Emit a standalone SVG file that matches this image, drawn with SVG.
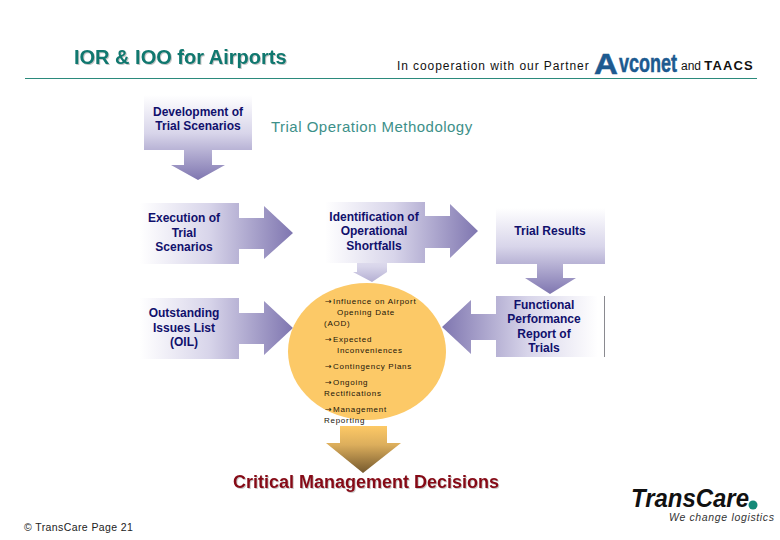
<svg xmlns="http://www.w3.org/2000/svg" xmlns:xlink="http://www.w3.org/1999/xlink" width="780" height="540" viewBox="0 0 780 540">
<style>
text{font-family:"Liberation Sans",Arial,sans-serif}
.n{font-size:12px;font-weight:bold;fill:#10106c;text-anchor:middle}
.e{font-size:8px;fill:#1a1408;letter-spacing:.72px}
.a{font-family:"DejaVu Sans",sans-serif;letter-spacing:0}
</style>
<defs>
<linearGradient id="p"><stop offset="0" stop-color="#fff"/><stop offset=".45" stop-color="#d8d5ea"/><stop offset="1" stop-color="#7f76b0"/></linearGradient>
<linearGradient id="gDev" xlink:href="#p" gradientUnits="userSpaceOnUse" x1="0" y1="95" x2="0" y2="180"/>
<linearGradient id="gExe" xlink:href="#p" gradientUnits="userSpaceOnUse" x1="140" y1="0" x2="293" y2="0"/>
<linearGradient id="gIde" xlink:href="#p" gradientUnits="userSpaceOnUse" x1="325" y1="0" x2="478" y2="0"/>
<linearGradient id="gSmall" xlink:href="#p" gradientUnits="userSpaceOnUse" x1="0" y1="235" x2="0" y2="305"/>
<linearGradient id="gOut" xlink:href="#p" gradientUnits="userSpaceOnUse" x1="140" y1="0" x2="293" y2="0"/>
<linearGradient id="gRes" xlink:href="#p" gradientUnits="userSpaceOnUse" x1="0" y1="208" x2="0" y2="294"/>
<linearGradient id="gFun" xlink:href="#p" gradientUnits="userSpaceOnUse" x1="598" y1="0" x2="442" y2="0"/>
<linearGradient id="gBot" gradientUnits="userSpaceOnUse" x1="0" y1="426" x2="0" y2="473"><stop offset="0" stop-color="#fdc966"/><stop offset=".4" stop-color="#dcae5c"/><stop offset="1" stop-color="#75592e"/></linearGradient>
</defs>
<rect width="780" height="540" fill="#fff"/>
<g id="header">
<text x="74" y="64" font-size="20" font-weight="bold" fill="#10786f" style="filter:drop-shadow(1px 1px 0 #c4c4c4)">IOR &amp; IOO for Airports</text>
<text x="397" y="70" font-size="12" letter-spacing=".92" fill="#111">In cooperation with our Partner</text>
<g id="avconet-logo" fill="#1d5a90" stroke="#1d5a90" stroke-width=".5" font-weight="bold">
<text transform="translate(594 74) scale(1.14 1)" font-size="29">A</text>
<text transform="translate(619 72) scale(.72 1)" font-size="25">vconet</text>
</g>
<text x="681" y="70" font-size="12" fill="#111">and <tspan font-weight="bold" font-size="13" letter-spacing="1.1">TAACS</tspan></text>
<path d="M25 78.5H757" stroke="#2b8a7c" stroke-width="1.2" fill="none"/>
<text x="271" y="132" font-size="15" letter-spacing=".48" fill="#3d9089">Trial Operation Methodology</text>
</g>
<g id="connectors">
<polygon points="184,150 212,150 212,165 225,165 198,180 171,165 184,165" fill="url(#gDev)"/>
<polygon points="239,218 264,218 264,206 293,233 264,259 264,249 239,249" fill="url(#gExe)"/>
<polygon points="425,216 450,216 450,204 478,231 450,258 450,248 425,248" fill="url(#gIde)"/>
<polygon points="357,263 387,263 387,272 372,282 353,272 357,272" fill="url(#gSmall)"/>
<polygon points="239,313 264,313 264,301 293,328 264,355 264,344 239,344" fill="url(#gOut)"/>
<polygon points="537,264 563,264 563,278 576,278 550,294 525,278 537,278" fill="url(#gRes)"/>
<polygon points="496,314 471,314 471,300 442,327 471,354 471,340 496,340" fill="url(#gFun)"/>
<polygon points="340,426 387,426 387,443 401,443 363,473 326,443 340,443" fill="url(#gBot)"/>
</g>
<g id="node-development"><rect x="144" y="95" width="108" height="55" fill="url(#gDev)"/>
<text class="n" x="198" y="116">Development of</text><text class="n" x="198" y="130">Trial Scenarios</text></g>
<g id="node-execution"><rect x="140" y="203" width="99" height="61" fill="url(#gExe)"/>
<text class="n" x="184" y="222">Execution of</text><text class="n" x="184" y="237">Trial</text><text class="n" x="184" y="251">Scenarios</text></g>
<g id="node-identification"><rect x="325" y="202" width="100" height="61" fill="url(#gIde)"/>
<text class="n" x="374" y="221">Identification of</text><text class="n" x="374" y="235">Operational</text><text class="n" x="374" y="250">Shortfalls</text></g>
<g id="node-results"><rect x="496" y="208" width="109" height="56" fill="url(#gRes)"/>
<text class="n" x="550" y="235">Trial Results</text></g>
<g id="node-outstanding"><rect x="140" y="298" width="99" height="61" fill="url(#gOut)"/>
<text class="n" x="184" y="317">Outstanding</text><text class="n" x="184" y="332">Issues List</text><text class="n" x="184" y="346">(OIL)</text></g>
<g id="node-functional"><rect x="496" y="296" width="109" height="61" fill="url(#gFun)"/>
<path d="M604.5 296V357" stroke="#8a8a90" stroke-width="1"/>
<text class="n" x="544" y="309">Functional</text><text class="n" x="544" y="323">Performance</text><text class="n" x="544" y="338">Report of</text><text class="n" x="544" y="352">Trials</text></g>
<g id="node-issues">
<ellipse cx="367" cy="351.5" rx="79" ry="68.5" fill="#fcc967"/>
<text class="e" x="325" y="304"><tspan class="a">→</tspan><tspan x="333">Influence on Airport</tspan></text>
<text class="e" x="337" y="315">Opening Date</text>
<text class="e" x="324" y="326">(AOD)</text>
<text class="e" x="325" y="342"><tspan class="a">→</tspan><tspan x="333">Expected</tspan></text>
<text class="e" x="337" y="353">Inconveniences</text>
<text class="e" x="325" y="369"><tspan class="a">→</tspan><tspan x="333">Contingency Plans</tspan></text>
<text class="e" x="325" y="385"><tspan class="a">→</tspan><tspan x="333">Ongoing</tspan></text>
<text class="e" x="324" y="396">Rectifications</text>
<text class="e" x="325" y="412"><tspan class="a">→</tspan><tspan x="333">Management</tspan></text>
<text class="e" x="324" y="423">Reporting</text>
</g>
<g id="node-decisions">
<text x="366" y="488" font-size="18" font-weight="bold" text-anchor="middle" fill="#860a16" style="filter:drop-shadow(1px 1px 0 #c8c8c8)">Critical Management Decisions</text>
</g>
<g id="footer">
<text x="24" y="531" font-size="10.5" letter-spacing=".4" fill="#222">© TransCare  Page 21</text>
<g id="transcare-logo">
<text x="631" y="507" font-size="25" font-style="italic" font-weight="bold" fill="#111" textLength="118" lengthAdjust="spacingAndGlyphs">TransCare</text>
<circle cx="753" cy="505" r="4.5" fill="#148a78"/>
<text x="669" y="521" font-size="10.5" font-style="italic" fill="#333" textLength="105" lengthAdjust="spacing">We change logistics</text>
</g>
</g>
</svg>
